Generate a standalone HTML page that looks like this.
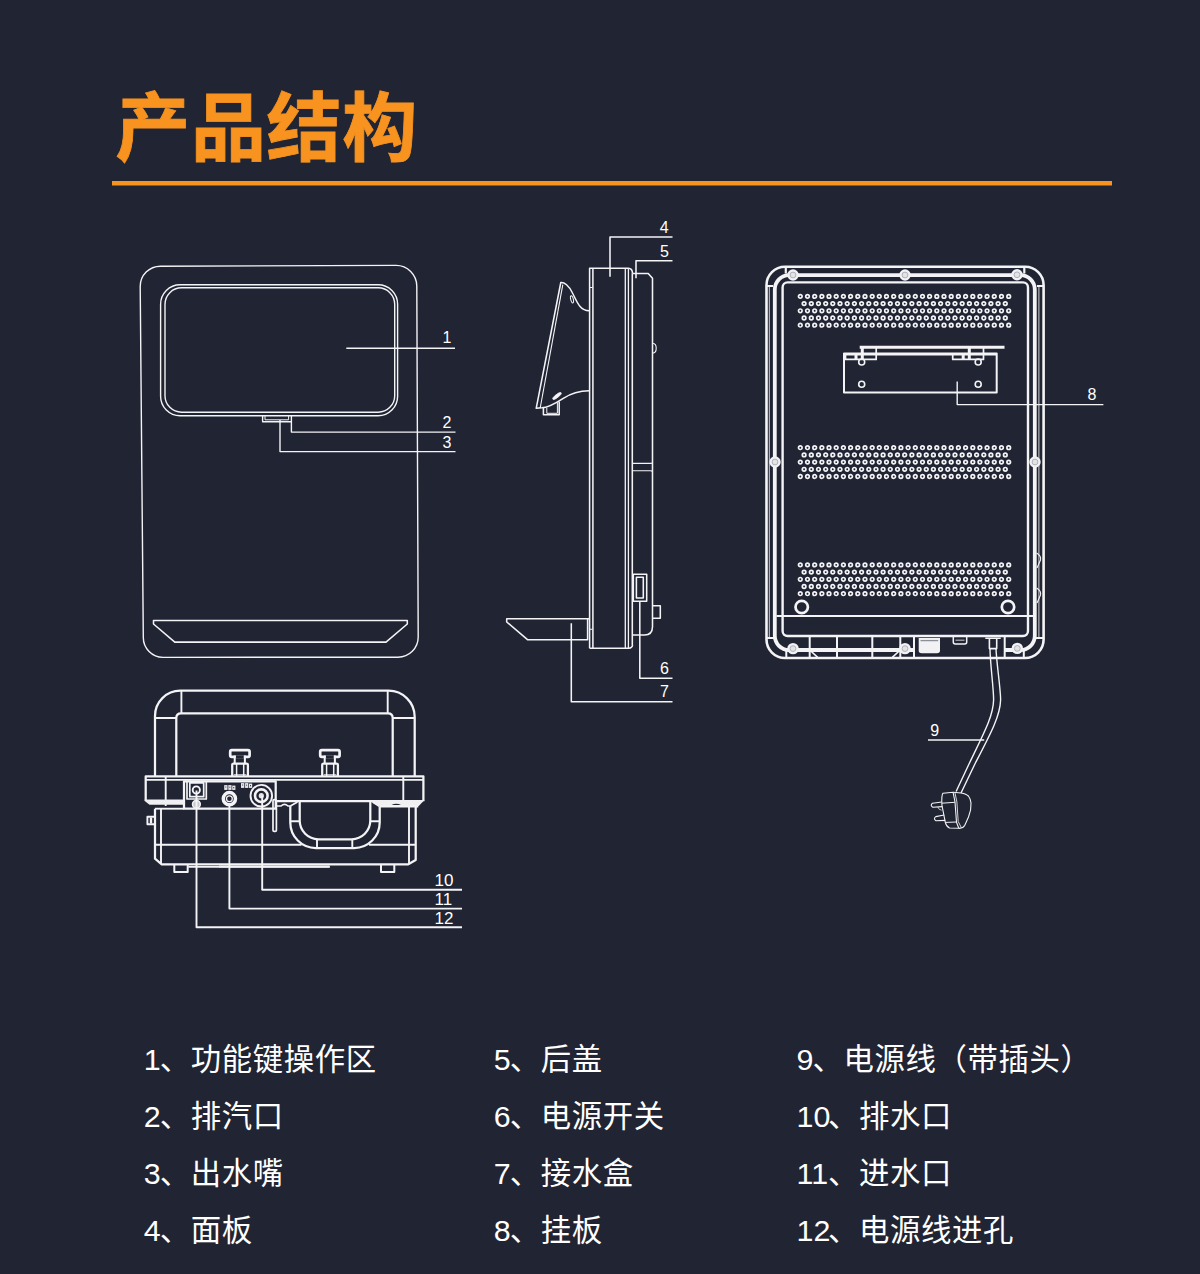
<!DOCTYPE html>
<html lang="zh"><head><meta charset="utf-8"><title>产品结构</title>
<style>html,body{margin:0;padding:0;background:#212433;}body{width:1200px;height:1274px;overflow:hidden;font-family:"Liberation Sans",sans-serif;}svg{display:block}</style>
</head><body><svg width="1200" height="1274" viewBox="0 0 1200 1274"><text x="115.35" y="154.5" font-family="'Liberation Sans', 'Noto Sans CJK SC', sans-serif" font-size="75" font-weight="bold" letter-spacing="0.6" fill="#f7931e" stroke="#f7931e" stroke-width="0.8">产品结构</text><rect x="112" y="181" width="1000" height="4.5" fill="#f7931e"/><g font-family="'Liberation Sans', 'Noto Sans CJK SC', sans-serif" fill="#fff" stroke="none" font-size="30.4" letter-spacing="0.6"><text x="143.8" y="1070.1">1<tspan x="159.7">、功能键操作区</tspan></text><text x="143.8" y="1127.2">2<tspan x="159.7">、排汽口</tspan></text><text x="143.8" y="1184.2">3<tspan x="159.7">、出水嘴</tspan></text><text x="143.8" y="1241.2">4<tspan x="159.7">、面板</tspan></text><text x="493.8" y="1070.1">5<tspan x="509.7">、后盖</tspan></text><text x="493.8" y="1127.2">6<tspan x="509.7">、电源开关</tspan></text><text x="493.8" y="1184.2">7<tspan x="509.7">、接水盒</tspan></text><text x="493.8" y="1241.2">8<tspan x="509.7">、挂板</tspan></text><text x="796.6" y="1070.1">9<tspan x="812.5">、电源线（带插头）</tspan></text><text x="796.6" y="1127.2" letter-spacing="0">10<tspan x="828.1" letter-spacing="0.6">、排水口</tspan></text><text x="796.6" y="1184.2" letter-spacing="0">11<tspan x="828.1" letter-spacing="0.6">、进水口</tspan></text><text x="796.6" y="1241.2" letter-spacing="0">12<tspan x="828.1" letter-spacing="0.6">、电源线进孔</tspan></text></g><g stroke-linejoin="round" stroke-linecap="butt"><path d="M160.5,266.2 L396,265.4 A20.7,20.7 0 0 1 416.8,286 L418.2,637 A20.2,20.2 0 0 1 398,657.2 L163,657.4 A19.8,19.8 0 0 1 143.3,637.6 L140.2,286.4 A20.2,20.2 0 0 1 160.5,266.2 Z" fill="none" stroke="#f4f4f6" stroke-width="1.4" /><rect x="160.6" y="284.7" width="237.0" height="131.1" rx="19.5" ry="19.5" fill="none" stroke="#f4f4f6" stroke-width="1.4" /><rect x="165" y="287.8" width="229.7" height="124.4" rx="16.5" ry="16.5" fill="none" stroke="#f4f4f6" stroke-width="1.4" /><path d="M262.6,415.8 V421.7 H291.3" fill="none" stroke="#f4f4f6" stroke-width="1.4" /><path d="M265,416 V419.8 H288.6 V416" fill="none" stroke="#f4f4f6" stroke-width="1.0" /><path d="M153.5,620.5 H407.3 V624 L386,642.1 H174.8 L153.5,624 Z" fill="none" stroke="#f4f4f6" stroke-width="1.5499999999999998" /><path d="M346.3,348.3 H455" fill="none" stroke="#f4f4f6" stroke-width="1.4" /><path d="M291.4,415.8 V432.1 H455.5" fill="none" stroke="#f4f4f6" stroke-width="1.4" /><path d="M280,420 V451.6 H455.5" fill="none" stroke="#f4f4f6" stroke-width="1.4" /></g><g font-family="'Liberation Sans', sans-serif" fill="#fff" stroke="none" font-size="16"><text x="442.6" y="342.6">1</text><text x="442.6" y="428.4">2</text><text x="442.6" y="447.9">3</text></g><g stroke-linejoin="round" stroke-linecap="butt"><path d="M589.6,648.3 V268.3 H628.4 Q632.4,268.6 632.5,273.3" fill="none" stroke="#f4f4f6" stroke-width="1.55" /><path d="M589.6,648.3 H628.6 Q632.3,648 632.5,645" fill="none" stroke="#f4f4f6" stroke-width="1.55" /><path d="M592.9,268.3 V648.3" fill="none" stroke="#f4f4f6" stroke-width="1.55" /><path d="M625.3,268 V648.3 M628.4,268.6 V648" fill="none" stroke="#f4f4f6" stroke-width="1.3" /><path d="M632.3,273.3 V645" fill="none" stroke="#f4f4f6" stroke-width="1.55" /><path d="M589.2,287.5 H592.5 M589.2,629.2 H592.5" fill="none" stroke="#f4f4f6" stroke-width="1.1" /><path d="M632.5,273.4 H648.2 L652.5,278.3 V626.7 Q652.4,635 644.5,635 H632.5" fill="none" stroke="#f4f4f6" stroke-width="1.55" /><path d="M652.5,343.3 Q656.3,343.6 656.2,348.3 Q656.3,353 652.5,353.3" fill="none" stroke="#f4f4f6" stroke-width="1.1" /><path d="M632.5,463.4 H650.6 Q652,463.4 652.5,462.4 M632.5,470.8 H650.6 Q652,470.8 652.5,471.8" fill="none" stroke="#f4f4f6" stroke-width="1.1" /><path d="M652.5,605.8 H660.3 V618.3 H652.5" fill="none" stroke="#f4f4f6" stroke-width="1.55" /><path d="M633.3,574.2 H646.7 V601.3 H633.3 Z" fill="none" stroke="#f4f4f6" stroke-width="1.55" /><path d="M636.4,577.3 H643.3 V598 H636.4 Z" fill="none" stroke="#f4f4f6" stroke-width="1.55" /><path d="M589.2,310.8 C580,310.5 577.5,303 572.5,293 C569,285.5 564,282 560.8,282.5 L536.2,408.3 L541.7,407.8" fill="none" stroke="#f4f4f6" stroke-width="1.55" /><path d="M562.8,284.6 L540.2,408" fill="none" stroke="#f4f4f6" stroke-width="1.1" /><path d="M541.7,407.8 C549,407.5 556,403 563.3,398.3 C572,392.8 580,391 589.2,390.8" fill="none" stroke="#f4f4f6" stroke-width="1.55" /><ellipse cx="572" cy="299.3" rx="1.3" ry="3.7" transform="rotate(-14 572 299.3)" fill="none" stroke="#f4f4f6" stroke-width="1"/><ellipse cx="557" cy="396" rx="1.5" ry="5.2" transform="rotate(52 557 396)" fill="#f4f4f6" stroke="#f4f4f6" stroke-width="0.8"/><path d="M543.4,408 V414.7 H559.2 V401.5" fill="none" stroke="#f4f4f6" stroke-width="1.55" /><path d="M546.8,408 V413.3 H557.4 V402.6" fill="none" stroke="#f4f4f6" stroke-width="1.0" /><path d="M589.2,618.7 H506.7 V622 L527.5,639.7 H587.6 V618.7" fill="none" stroke="#f4f4f6" stroke-width="1.55" /><path d="M672.5,237 H610 V276.7" fill="none" stroke="#f4f4f6" stroke-width="1.55" /><path d="M672.5,260.7 H636 V278.3" fill="none" stroke="#f4f4f6" stroke-width="1.55" /><path d="M639.8,601.3 V678.3 H672.5" fill="none" stroke="#f4f4f6" stroke-width="1.55" /><path d="M571.3,623.3 V701.7 H672.5" fill="none" stroke="#f4f4f6" stroke-width="1.55" /></g><g font-family="'Liberation Sans', sans-serif" fill="#fff" stroke="none" font-size="16"><text x="659.7" y="232.6">4</text><text x="659.9" y="257">5</text><text x="659.9" y="674.4">6</text><text x="659.9" y="696.8">7</text></g><g stroke-linejoin="round" stroke-linecap="butt"><rect x="766.5" y="266.7" width="277.1" height="391.3" rx="18.5" ry="18.5" fill="none" stroke="#f4f4f6" stroke-width="2.6" /><path d="M914,650 H789 A14.2,14.2 0 0 1 774.8,635.8 V289.4 A14.2,14.2 0 0 1 789,275.2 H1020.6 A14.2,14.2 0 0 1 1034.8,289.4 V635.8 A14.2,14.2 0 0 1 1020.6,650 H1004.7" fill="none" stroke="#f4f4f6" stroke-width="3.8" /><rect x="782.6" y="282.4" width="245.4" height="353.6" rx="5" ry="5" fill="none" stroke="#f4f4f6" stroke-width="2.4" /><path d="M785.8,266.7 V273.4 M766.5,286 H773 M1024.3,266.7 V273.4 M1043.6,286 H1037" fill="none" stroke="#f4f4f6" stroke-width="2.2" /><path d="M1038.9,286 V638 M769.3,286 V638" fill="none" stroke="#f4f4f6" stroke-width="1.0" opacity="0.85"/><path d="M766.5,638 H774 M786.3,651 V658 M1043.6,638 H1036 M1023.8,651 V658" fill="none" stroke="#f4f4f6" stroke-width="2.0" /><path d="M776.5,616 H1033" fill="none" stroke="#f4f4f6" stroke-width="2.0" /><path d="M809.7,636 V658 M837,636 V658 M872.3,636 V658 M900.3,636 V658 M914,636 V658 M1004.7,636 V658" fill="none" stroke="#f4f4f6" stroke-width="2.0" /><path d="M809.7,650 L817.7,657.3 M900.3,650 L892.3,657.3" fill="none" stroke="#f4f4f6" stroke-width="1.6" /><path d="M1036.6,553 Q1041.5,556 1040.5,560 L1037,568 M1036.6,588 Q1041.5,591 1040.5,595 L1037,603" fill="none" stroke="#f4f4f6" stroke-width="1.1" /><circle cx="793" cy="275" r="5.7" fill="#f2f2f4"/><circle cx="793" cy="275" r="2.9" fill="#e2e3e7" stroke="#a9abb4" stroke-width="0.9"/><circle cx="905" cy="275" r="5.7" fill="#f2f2f4"/><circle cx="905" cy="275" r="2.9" fill="#e2e3e7" stroke="#a9abb4" stroke-width="0.9"/><circle cx="1017" cy="274.8" r="5.7" fill="#f2f2f4"/><circle cx="1017" cy="274.8" r="2.9" fill="#e2e3e7" stroke="#a9abb4" stroke-width="0.9"/><circle cx="775" cy="462" r="5.7" fill="#f2f2f4"/><circle cx="775" cy="462" r="2.9" fill="#e2e3e7" stroke="#a9abb4" stroke-width="0.9"/><circle cx="1035" cy="462" r="5.7" fill="#f2f2f4"/><circle cx="1035" cy="462" r="2.9" fill="#e2e3e7" stroke="#a9abb4" stroke-width="0.9"/><circle cx="793" cy="648.6" r="5.7" fill="#f2f2f4"/><circle cx="793" cy="648.6" r="2.9" fill="#e2e3e7" stroke="#a9abb4" stroke-width="0.9"/><circle cx="905" cy="648.6" r="5.7" fill="#f2f2f4"/><circle cx="905" cy="648.6" r="2.9" fill="#e2e3e7" stroke="#a9abb4" stroke-width="0.9"/><circle cx="1017.3" cy="648.4" r="5.7" fill="#f2f2f4"/><circle cx="1017.3" cy="648.4" r="2.9" fill="#e2e3e7" stroke="#a9abb4" stroke-width="0.9"/><path d="M798.5,296.4a1.8,1.8 0 1 0 3.6,0a1.8,1.8 0 1 0 -3.6,0M805.7,296.4a1.8,1.8 0 1 0 3.6,0a1.8,1.8 0 1 0 -3.6,0M812.9,296.4a1.8,1.8 0 1 0 3.6,0a1.8,1.8 0 1 0 -3.6,0M820.1,296.4a1.8,1.8 0 1 0 3.6,0a1.8,1.8 0 1 0 -3.6,0M827.2,296.4a1.8,1.8 0 1 0 3.6,0a1.8,1.8 0 1 0 -3.6,0M834.4,296.4a1.8,1.8 0 1 0 3.6,0a1.8,1.8 0 1 0 -3.6,0M841.6,296.4a1.8,1.8 0 1 0 3.6,0a1.8,1.8 0 1 0 -3.6,0M848.8,296.4a1.8,1.8 0 1 0 3.6,0a1.8,1.8 0 1 0 -3.6,0M856.0,296.4a1.8,1.8 0 1 0 3.6,0a1.8,1.8 0 1 0 -3.6,0M863.2,296.4a1.8,1.8 0 1 0 3.6,0a1.8,1.8 0 1 0 -3.6,0M870.4,296.4a1.8,1.8 0 1 0 3.6,0a1.8,1.8 0 1 0 -3.6,0M877.5,296.4a1.8,1.8 0 1 0 3.6,0a1.8,1.8 0 1 0 -3.6,0M884.7,296.4a1.8,1.8 0 1 0 3.6,0a1.8,1.8 0 1 0 -3.6,0M891.9,296.4a1.8,1.8 0 1 0 3.6,0a1.8,1.8 0 1 0 -3.6,0M899.1,296.4a1.8,1.8 0 1 0 3.6,0a1.8,1.8 0 1 0 -3.6,0M906.3,296.4a1.8,1.8 0 1 0 3.6,0a1.8,1.8 0 1 0 -3.6,0M913.5,296.4a1.8,1.8 0 1 0 3.6,0a1.8,1.8 0 1 0 -3.6,0M920.7,296.4a1.8,1.8 0 1 0 3.6,0a1.8,1.8 0 1 0 -3.6,0M927.8,296.4a1.8,1.8 0 1 0 3.6,0a1.8,1.8 0 1 0 -3.6,0M935.0,296.4a1.8,1.8 0 1 0 3.6,0a1.8,1.8 0 1 0 -3.6,0M942.2,296.4a1.8,1.8 0 1 0 3.6,0a1.8,1.8 0 1 0 -3.6,0M949.4,296.4a1.8,1.8 0 1 0 3.6,0a1.8,1.8 0 1 0 -3.6,0M956.6,296.4a1.8,1.8 0 1 0 3.6,0a1.8,1.8 0 1 0 -3.6,0M963.8,296.4a1.8,1.8 0 1 0 3.6,0a1.8,1.8 0 1 0 -3.6,0M971.0,296.4a1.8,1.8 0 1 0 3.6,0a1.8,1.8 0 1 0 -3.6,0M978.1,296.4a1.8,1.8 0 1 0 3.6,0a1.8,1.8 0 1 0 -3.6,0M985.3,296.4a1.8,1.8 0 1 0 3.6,0a1.8,1.8 0 1 0 -3.6,0M992.5,296.4a1.8,1.8 0 1 0 3.6,0a1.8,1.8 0 1 0 -3.6,0M999.7,296.4a1.8,1.8 0 1 0 3.6,0a1.8,1.8 0 1 0 -3.6,0M1006.9,296.4a1.8,1.8 0 1 0 3.6,0a1.8,1.8 0 1 0 -3.6,0M802.3,303.6a1.8,1.8 0 1 0 3.6,0a1.8,1.8 0 1 0 -3.6,0M809.5,303.6a1.8,1.8 0 1 0 3.6,0a1.8,1.8 0 1 0 -3.6,0M816.7,303.6a1.8,1.8 0 1 0 3.6,0a1.8,1.8 0 1 0 -3.6,0M823.9,303.6a1.8,1.8 0 1 0 3.6,0a1.8,1.8 0 1 0 -3.6,0M831.0,303.6a1.8,1.8 0 1 0 3.6,0a1.8,1.8 0 1 0 -3.6,0M838.2,303.6a1.8,1.8 0 1 0 3.6,0a1.8,1.8 0 1 0 -3.6,0M845.4,303.6a1.8,1.8 0 1 0 3.6,0a1.8,1.8 0 1 0 -3.6,0M852.6,303.6a1.8,1.8 0 1 0 3.6,0a1.8,1.8 0 1 0 -3.6,0M859.8,303.6a1.8,1.8 0 1 0 3.6,0a1.8,1.8 0 1 0 -3.6,0M867.0,303.6a1.8,1.8 0 1 0 3.6,0a1.8,1.8 0 1 0 -3.6,0M874.2,303.6a1.8,1.8 0 1 0 3.6,0a1.8,1.8 0 1 0 -3.6,0M881.3,303.6a1.8,1.8 0 1 0 3.6,0a1.8,1.8 0 1 0 -3.6,0M888.5,303.6a1.8,1.8 0 1 0 3.6,0a1.8,1.8 0 1 0 -3.6,0M895.7,303.6a1.8,1.8 0 1 0 3.6,0a1.8,1.8 0 1 0 -3.6,0M902.9,303.6a1.8,1.8 0 1 0 3.6,0a1.8,1.8 0 1 0 -3.6,0M910.1,303.6a1.8,1.8 0 1 0 3.6,0a1.8,1.8 0 1 0 -3.6,0M917.3,303.6a1.8,1.8 0 1 0 3.6,0a1.8,1.8 0 1 0 -3.6,0M924.5,303.6a1.8,1.8 0 1 0 3.6,0a1.8,1.8 0 1 0 -3.6,0M931.6,303.6a1.8,1.8 0 1 0 3.6,0a1.8,1.8 0 1 0 -3.6,0M938.8,303.6a1.8,1.8 0 1 0 3.6,0a1.8,1.8 0 1 0 -3.6,0M946.0,303.6a1.8,1.8 0 1 0 3.6,0a1.8,1.8 0 1 0 -3.6,0M953.2,303.6a1.8,1.8 0 1 0 3.6,0a1.8,1.8 0 1 0 -3.6,0M960.4,303.6a1.8,1.8 0 1 0 3.6,0a1.8,1.8 0 1 0 -3.6,0M967.6,303.6a1.8,1.8 0 1 0 3.6,0a1.8,1.8 0 1 0 -3.6,0M974.8,303.6a1.8,1.8 0 1 0 3.6,0a1.8,1.8 0 1 0 -3.6,0M982.0,303.6a1.8,1.8 0 1 0 3.6,0a1.8,1.8 0 1 0 -3.6,0M989.1,303.6a1.8,1.8 0 1 0 3.6,0a1.8,1.8 0 1 0 -3.6,0M996.3,303.6a1.8,1.8 0 1 0 3.6,0a1.8,1.8 0 1 0 -3.6,0M1003.5,303.6a1.8,1.8 0 1 0 3.6,0a1.8,1.8 0 1 0 -3.6,0M798.5,310.8a1.8,1.8 0 1 0 3.6,0a1.8,1.8 0 1 0 -3.6,0M805.7,310.8a1.8,1.8 0 1 0 3.6,0a1.8,1.8 0 1 0 -3.6,0M812.9,310.8a1.8,1.8 0 1 0 3.6,0a1.8,1.8 0 1 0 -3.6,0M820.1,310.8a1.8,1.8 0 1 0 3.6,0a1.8,1.8 0 1 0 -3.6,0M827.2,310.8a1.8,1.8 0 1 0 3.6,0a1.8,1.8 0 1 0 -3.6,0M834.4,310.8a1.8,1.8 0 1 0 3.6,0a1.8,1.8 0 1 0 -3.6,0M841.6,310.8a1.8,1.8 0 1 0 3.6,0a1.8,1.8 0 1 0 -3.6,0M848.8,310.8a1.8,1.8 0 1 0 3.6,0a1.8,1.8 0 1 0 -3.6,0M856.0,310.8a1.8,1.8 0 1 0 3.6,0a1.8,1.8 0 1 0 -3.6,0M863.2,310.8a1.8,1.8 0 1 0 3.6,0a1.8,1.8 0 1 0 -3.6,0M870.4,310.8a1.8,1.8 0 1 0 3.6,0a1.8,1.8 0 1 0 -3.6,0M877.5,310.8a1.8,1.8 0 1 0 3.6,0a1.8,1.8 0 1 0 -3.6,0M884.7,310.8a1.8,1.8 0 1 0 3.6,0a1.8,1.8 0 1 0 -3.6,0M891.9,310.8a1.8,1.8 0 1 0 3.6,0a1.8,1.8 0 1 0 -3.6,0M899.1,310.8a1.8,1.8 0 1 0 3.6,0a1.8,1.8 0 1 0 -3.6,0M906.3,310.8a1.8,1.8 0 1 0 3.6,0a1.8,1.8 0 1 0 -3.6,0M913.5,310.8a1.8,1.8 0 1 0 3.6,0a1.8,1.8 0 1 0 -3.6,0M920.7,310.8a1.8,1.8 0 1 0 3.6,0a1.8,1.8 0 1 0 -3.6,0M927.8,310.8a1.8,1.8 0 1 0 3.6,0a1.8,1.8 0 1 0 -3.6,0M935.0,310.8a1.8,1.8 0 1 0 3.6,0a1.8,1.8 0 1 0 -3.6,0M942.2,310.8a1.8,1.8 0 1 0 3.6,0a1.8,1.8 0 1 0 -3.6,0M949.4,310.8a1.8,1.8 0 1 0 3.6,0a1.8,1.8 0 1 0 -3.6,0M956.6,310.8a1.8,1.8 0 1 0 3.6,0a1.8,1.8 0 1 0 -3.6,0M963.8,310.8a1.8,1.8 0 1 0 3.6,0a1.8,1.8 0 1 0 -3.6,0M971.0,310.8a1.8,1.8 0 1 0 3.6,0a1.8,1.8 0 1 0 -3.6,0M978.1,310.8a1.8,1.8 0 1 0 3.6,0a1.8,1.8 0 1 0 -3.6,0M985.3,310.8a1.8,1.8 0 1 0 3.6,0a1.8,1.8 0 1 0 -3.6,0M992.5,310.8a1.8,1.8 0 1 0 3.6,0a1.8,1.8 0 1 0 -3.6,0M999.7,310.8a1.8,1.8 0 1 0 3.6,0a1.8,1.8 0 1 0 -3.6,0M1006.9,310.8a1.8,1.8 0 1 0 3.6,0a1.8,1.8 0 1 0 -3.6,0M802.3,318.0a1.8,1.8 0 1 0 3.6,0a1.8,1.8 0 1 0 -3.6,0M809.5,318.0a1.8,1.8 0 1 0 3.6,0a1.8,1.8 0 1 0 -3.6,0M816.7,318.0a1.8,1.8 0 1 0 3.6,0a1.8,1.8 0 1 0 -3.6,0M823.9,318.0a1.8,1.8 0 1 0 3.6,0a1.8,1.8 0 1 0 -3.6,0M831.0,318.0a1.8,1.8 0 1 0 3.6,0a1.8,1.8 0 1 0 -3.6,0M838.2,318.0a1.8,1.8 0 1 0 3.6,0a1.8,1.8 0 1 0 -3.6,0M845.4,318.0a1.8,1.8 0 1 0 3.6,0a1.8,1.8 0 1 0 -3.6,0M852.6,318.0a1.8,1.8 0 1 0 3.6,0a1.8,1.8 0 1 0 -3.6,0M859.8,318.0a1.8,1.8 0 1 0 3.6,0a1.8,1.8 0 1 0 -3.6,0M867.0,318.0a1.8,1.8 0 1 0 3.6,0a1.8,1.8 0 1 0 -3.6,0M874.2,318.0a1.8,1.8 0 1 0 3.6,0a1.8,1.8 0 1 0 -3.6,0M881.3,318.0a1.8,1.8 0 1 0 3.6,0a1.8,1.8 0 1 0 -3.6,0M888.5,318.0a1.8,1.8 0 1 0 3.6,0a1.8,1.8 0 1 0 -3.6,0M895.7,318.0a1.8,1.8 0 1 0 3.6,0a1.8,1.8 0 1 0 -3.6,0M902.9,318.0a1.8,1.8 0 1 0 3.6,0a1.8,1.8 0 1 0 -3.6,0M910.1,318.0a1.8,1.8 0 1 0 3.6,0a1.8,1.8 0 1 0 -3.6,0M917.3,318.0a1.8,1.8 0 1 0 3.6,0a1.8,1.8 0 1 0 -3.6,0M924.5,318.0a1.8,1.8 0 1 0 3.6,0a1.8,1.8 0 1 0 -3.6,0M931.6,318.0a1.8,1.8 0 1 0 3.6,0a1.8,1.8 0 1 0 -3.6,0M938.8,318.0a1.8,1.8 0 1 0 3.6,0a1.8,1.8 0 1 0 -3.6,0M946.0,318.0a1.8,1.8 0 1 0 3.6,0a1.8,1.8 0 1 0 -3.6,0M953.2,318.0a1.8,1.8 0 1 0 3.6,0a1.8,1.8 0 1 0 -3.6,0M960.4,318.0a1.8,1.8 0 1 0 3.6,0a1.8,1.8 0 1 0 -3.6,0M967.6,318.0a1.8,1.8 0 1 0 3.6,0a1.8,1.8 0 1 0 -3.6,0M974.8,318.0a1.8,1.8 0 1 0 3.6,0a1.8,1.8 0 1 0 -3.6,0M982.0,318.0a1.8,1.8 0 1 0 3.6,0a1.8,1.8 0 1 0 -3.6,0M989.1,318.0a1.8,1.8 0 1 0 3.6,0a1.8,1.8 0 1 0 -3.6,0M996.3,318.0a1.8,1.8 0 1 0 3.6,0a1.8,1.8 0 1 0 -3.6,0M1003.5,318.0a1.8,1.8 0 1 0 3.6,0a1.8,1.8 0 1 0 -3.6,0M798.5,325.2a1.8,1.8 0 1 0 3.6,0a1.8,1.8 0 1 0 -3.6,0M805.7,325.2a1.8,1.8 0 1 0 3.6,0a1.8,1.8 0 1 0 -3.6,0M812.9,325.2a1.8,1.8 0 1 0 3.6,0a1.8,1.8 0 1 0 -3.6,0M820.1,325.2a1.8,1.8 0 1 0 3.6,0a1.8,1.8 0 1 0 -3.6,0M827.2,325.2a1.8,1.8 0 1 0 3.6,0a1.8,1.8 0 1 0 -3.6,0M834.4,325.2a1.8,1.8 0 1 0 3.6,0a1.8,1.8 0 1 0 -3.6,0M841.6,325.2a1.8,1.8 0 1 0 3.6,0a1.8,1.8 0 1 0 -3.6,0M848.8,325.2a1.8,1.8 0 1 0 3.6,0a1.8,1.8 0 1 0 -3.6,0M856.0,325.2a1.8,1.8 0 1 0 3.6,0a1.8,1.8 0 1 0 -3.6,0M863.2,325.2a1.8,1.8 0 1 0 3.6,0a1.8,1.8 0 1 0 -3.6,0M870.4,325.2a1.8,1.8 0 1 0 3.6,0a1.8,1.8 0 1 0 -3.6,0M877.5,325.2a1.8,1.8 0 1 0 3.6,0a1.8,1.8 0 1 0 -3.6,0M884.7,325.2a1.8,1.8 0 1 0 3.6,0a1.8,1.8 0 1 0 -3.6,0M891.9,325.2a1.8,1.8 0 1 0 3.6,0a1.8,1.8 0 1 0 -3.6,0M899.1,325.2a1.8,1.8 0 1 0 3.6,0a1.8,1.8 0 1 0 -3.6,0M906.3,325.2a1.8,1.8 0 1 0 3.6,0a1.8,1.8 0 1 0 -3.6,0M913.5,325.2a1.8,1.8 0 1 0 3.6,0a1.8,1.8 0 1 0 -3.6,0M920.7,325.2a1.8,1.8 0 1 0 3.6,0a1.8,1.8 0 1 0 -3.6,0M927.8,325.2a1.8,1.8 0 1 0 3.6,0a1.8,1.8 0 1 0 -3.6,0M935.0,325.2a1.8,1.8 0 1 0 3.6,0a1.8,1.8 0 1 0 -3.6,0M942.2,325.2a1.8,1.8 0 1 0 3.6,0a1.8,1.8 0 1 0 -3.6,0M949.4,325.2a1.8,1.8 0 1 0 3.6,0a1.8,1.8 0 1 0 -3.6,0M956.6,325.2a1.8,1.8 0 1 0 3.6,0a1.8,1.8 0 1 0 -3.6,0M963.8,325.2a1.8,1.8 0 1 0 3.6,0a1.8,1.8 0 1 0 -3.6,0M971.0,325.2a1.8,1.8 0 1 0 3.6,0a1.8,1.8 0 1 0 -3.6,0M978.1,325.2a1.8,1.8 0 1 0 3.6,0a1.8,1.8 0 1 0 -3.6,0M985.3,325.2a1.8,1.8 0 1 0 3.6,0a1.8,1.8 0 1 0 -3.6,0M992.5,325.2a1.8,1.8 0 1 0 3.6,0a1.8,1.8 0 1 0 -3.6,0M999.7,325.2a1.8,1.8 0 1 0 3.6,0a1.8,1.8 0 1 0 -3.6,0M1006.9,325.2a1.8,1.8 0 1 0 3.6,0a1.8,1.8 0 1 0 -3.6,0M798.5,447.7a1.8,1.8 0 1 0 3.6,0a1.8,1.8 0 1 0 -3.6,0M805.7,447.7a1.8,1.8 0 1 0 3.6,0a1.8,1.8 0 1 0 -3.6,0M812.9,447.7a1.8,1.8 0 1 0 3.6,0a1.8,1.8 0 1 0 -3.6,0M820.1,447.7a1.8,1.8 0 1 0 3.6,0a1.8,1.8 0 1 0 -3.6,0M827.2,447.7a1.8,1.8 0 1 0 3.6,0a1.8,1.8 0 1 0 -3.6,0M834.4,447.7a1.8,1.8 0 1 0 3.6,0a1.8,1.8 0 1 0 -3.6,0M841.6,447.7a1.8,1.8 0 1 0 3.6,0a1.8,1.8 0 1 0 -3.6,0M848.8,447.7a1.8,1.8 0 1 0 3.6,0a1.8,1.8 0 1 0 -3.6,0M856.0,447.7a1.8,1.8 0 1 0 3.6,0a1.8,1.8 0 1 0 -3.6,0M863.2,447.7a1.8,1.8 0 1 0 3.6,0a1.8,1.8 0 1 0 -3.6,0M870.4,447.7a1.8,1.8 0 1 0 3.6,0a1.8,1.8 0 1 0 -3.6,0M877.5,447.7a1.8,1.8 0 1 0 3.6,0a1.8,1.8 0 1 0 -3.6,0M884.7,447.7a1.8,1.8 0 1 0 3.6,0a1.8,1.8 0 1 0 -3.6,0M891.9,447.7a1.8,1.8 0 1 0 3.6,0a1.8,1.8 0 1 0 -3.6,0M899.1,447.7a1.8,1.8 0 1 0 3.6,0a1.8,1.8 0 1 0 -3.6,0M906.3,447.7a1.8,1.8 0 1 0 3.6,0a1.8,1.8 0 1 0 -3.6,0M913.5,447.7a1.8,1.8 0 1 0 3.6,0a1.8,1.8 0 1 0 -3.6,0M920.7,447.7a1.8,1.8 0 1 0 3.6,0a1.8,1.8 0 1 0 -3.6,0M927.8,447.7a1.8,1.8 0 1 0 3.6,0a1.8,1.8 0 1 0 -3.6,0M935.0,447.7a1.8,1.8 0 1 0 3.6,0a1.8,1.8 0 1 0 -3.6,0M942.2,447.7a1.8,1.8 0 1 0 3.6,0a1.8,1.8 0 1 0 -3.6,0M949.4,447.7a1.8,1.8 0 1 0 3.6,0a1.8,1.8 0 1 0 -3.6,0M956.6,447.7a1.8,1.8 0 1 0 3.6,0a1.8,1.8 0 1 0 -3.6,0M963.8,447.7a1.8,1.8 0 1 0 3.6,0a1.8,1.8 0 1 0 -3.6,0M971.0,447.7a1.8,1.8 0 1 0 3.6,0a1.8,1.8 0 1 0 -3.6,0M978.1,447.7a1.8,1.8 0 1 0 3.6,0a1.8,1.8 0 1 0 -3.6,0M985.3,447.7a1.8,1.8 0 1 0 3.6,0a1.8,1.8 0 1 0 -3.6,0M992.5,447.7a1.8,1.8 0 1 0 3.6,0a1.8,1.8 0 1 0 -3.6,0M999.7,447.7a1.8,1.8 0 1 0 3.6,0a1.8,1.8 0 1 0 -3.6,0M1006.9,447.7a1.8,1.8 0 1 0 3.6,0a1.8,1.8 0 1 0 -3.6,0M802.3,454.9a1.8,1.8 0 1 0 3.6,0a1.8,1.8 0 1 0 -3.6,0M809.5,454.9a1.8,1.8 0 1 0 3.6,0a1.8,1.8 0 1 0 -3.6,0M816.7,454.9a1.8,1.8 0 1 0 3.6,0a1.8,1.8 0 1 0 -3.6,0M823.9,454.9a1.8,1.8 0 1 0 3.6,0a1.8,1.8 0 1 0 -3.6,0M831.0,454.9a1.8,1.8 0 1 0 3.6,0a1.8,1.8 0 1 0 -3.6,0M838.2,454.9a1.8,1.8 0 1 0 3.6,0a1.8,1.8 0 1 0 -3.6,0M845.4,454.9a1.8,1.8 0 1 0 3.6,0a1.8,1.8 0 1 0 -3.6,0M852.6,454.9a1.8,1.8 0 1 0 3.6,0a1.8,1.8 0 1 0 -3.6,0M859.8,454.9a1.8,1.8 0 1 0 3.6,0a1.8,1.8 0 1 0 -3.6,0M867.0,454.9a1.8,1.8 0 1 0 3.6,0a1.8,1.8 0 1 0 -3.6,0M874.2,454.9a1.8,1.8 0 1 0 3.6,0a1.8,1.8 0 1 0 -3.6,0M881.3,454.9a1.8,1.8 0 1 0 3.6,0a1.8,1.8 0 1 0 -3.6,0M888.5,454.9a1.8,1.8 0 1 0 3.6,0a1.8,1.8 0 1 0 -3.6,0M895.7,454.9a1.8,1.8 0 1 0 3.6,0a1.8,1.8 0 1 0 -3.6,0M902.9,454.9a1.8,1.8 0 1 0 3.6,0a1.8,1.8 0 1 0 -3.6,0M910.1,454.9a1.8,1.8 0 1 0 3.6,0a1.8,1.8 0 1 0 -3.6,0M917.3,454.9a1.8,1.8 0 1 0 3.6,0a1.8,1.8 0 1 0 -3.6,0M924.5,454.9a1.8,1.8 0 1 0 3.6,0a1.8,1.8 0 1 0 -3.6,0M931.6,454.9a1.8,1.8 0 1 0 3.6,0a1.8,1.8 0 1 0 -3.6,0M938.8,454.9a1.8,1.8 0 1 0 3.6,0a1.8,1.8 0 1 0 -3.6,0M946.0,454.9a1.8,1.8 0 1 0 3.6,0a1.8,1.8 0 1 0 -3.6,0M953.2,454.9a1.8,1.8 0 1 0 3.6,0a1.8,1.8 0 1 0 -3.6,0M960.4,454.9a1.8,1.8 0 1 0 3.6,0a1.8,1.8 0 1 0 -3.6,0M967.6,454.9a1.8,1.8 0 1 0 3.6,0a1.8,1.8 0 1 0 -3.6,0M974.8,454.9a1.8,1.8 0 1 0 3.6,0a1.8,1.8 0 1 0 -3.6,0M982.0,454.9a1.8,1.8 0 1 0 3.6,0a1.8,1.8 0 1 0 -3.6,0M989.1,454.9a1.8,1.8 0 1 0 3.6,0a1.8,1.8 0 1 0 -3.6,0M996.3,454.9a1.8,1.8 0 1 0 3.6,0a1.8,1.8 0 1 0 -3.6,0M1003.5,454.9a1.8,1.8 0 1 0 3.6,0a1.8,1.8 0 1 0 -3.6,0M798.5,462.1a1.8,1.8 0 1 0 3.6,0a1.8,1.8 0 1 0 -3.6,0M805.7,462.1a1.8,1.8 0 1 0 3.6,0a1.8,1.8 0 1 0 -3.6,0M812.9,462.1a1.8,1.8 0 1 0 3.6,0a1.8,1.8 0 1 0 -3.6,0M820.1,462.1a1.8,1.8 0 1 0 3.6,0a1.8,1.8 0 1 0 -3.6,0M827.2,462.1a1.8,1.8 0 1 0 3.6,0a1.8,1.8 0 1 0 -3.6,0M834.4,462.1a1.8,1.8 0 1 0 3.6,0a1.8,1.8 0 1 0 -3.6,0M841.6,462.1a1.8,1.8 0 1 0 3.6,0a1.8,1.8 0 1 0 -3.6,0M848.8,462.1a1.8,1.8 0 1 0 3.6,0a1.8,1.8 0 1 0 -3.6,0M856.0,462.1a1.8,1.8 0 1 0 3.6,0a1.8,1.8 0 1 0 -3.6,0M863.2,462.1a1.8,1.8 0 1 0 3.6,0a1.8,1.8 0 1 0 -3.6,0M870.4,462.1a1.8,1.8 0 1 0 3.6,0a1.8,1.8 0 1 0 -3.6,0M877.5,462.1a1.8,1.8 0 1 0 3.6,0a1.8,1.8 0 1 0 -3.6,0M884.7,462.1a1.8,1.8 0 1 0 3.6,0a1.8,1.8 0 1 0 -3.6,0M891.9,462.1a1.8,1.8 0 1 0 3.6,0a1.8,1.8 0 1 0 -3.6,0M899.1,462.1a1.8,1.8 0 1 0 3.6,0a1.8,1.8 0 1 0 -3.6,0M906.3,462.1a1.8,1.8 0 1 0 3.6,0a1.8,1.8 0 1 0 -3.6,0M913.5,462.1a1.8,1.8 0 1 0 3.6,0a1.8,1.8 0 1 0 -3.6,0M920.7,462.1a1.8,1.8 0 1 0 3.6,0a1.8,1.8 0 1 0 -3.6,0M927.8,462.1a1.8,1.8 0 1 0 3.6,0a1.8,1.8 0 1 0 -3.6,0M935.0,462.1a1.8,1.8 0 1 0 3.6,0a1.8,1.8 0 1 0 -3.6,0M942.2,462.1a1.8,1.8 0 1 0 3.6,0a1.8,1.8 0 1 0 -3.6,0M949.4,462.1a1.8,1.8 0 1 0 3.6,0a1.8,1.8 0 1 0 -3.6,0M956.6,462.1a1.8,1.8 0 1 0 3.6,0a1.8,1.8 0 1 0 -3.6,0M963.8,462.1a1.8,1.8 0 1 0 3.6,0a1.8,1.8 0 1 0 -3.6,0M971.0,462.1a1.8,1.8 0 1 0 3.6,0a1.8,1.8 0 1 0 -3.6,0M978.1,462.1a1.8,1.8 0 1 0 3.6,0a1.8,1.8 0 1 0 -3.6,0M985.3,462.1a1.8,1.8 0 1 0 3.6,0a1.8,1.8 0 1 0 -3.6,0M992.5,462.1a1.8,1.8 0 1 0 3.6,0a1.8,1.8 0 1 0 -3.6,0M999.7,462.1a1.8,1.8 0 1 0 3.6,0a1.8,1.8 0 1 0 -3.6,0M1006.9,462.1a1.8,1.8 0 1 0 3.6,0a1.8,1.8 0 1 0 -3.6,0M802.3,469.3a1.8,1.8 0 1 0 3.6,0a1.8,1.8 0 1 0 -3.6,0M809.5,469.3a1.8,1.8 0 1 0 3.6,0a1.8,1.8 0 1 0 -3.6,0M816.7,469.3a1.8,1.8 0 1 0 3.6,0a1.8,1.8 0 1 0 -3.6,0M823.9,469.3a1.8,1.8 0 1 0 3.6,0a1.8,1.8 0 1 0 -3.6,0M831.0,469.3a1.8,1.8 0 1 0 3.6,0a1.8,1.8 0 1 0 -3.6,0M838.2,469.3a1.8,1.8 0 1 0 3.6,0a1.8,1.8 0 1 0 -3.6,0M845.4,469.3a1.8,1.8 0 1 0 3.6,0a1.8,1.8 0 1 0 -3.6,0M852.6,469.3a1.8,1.8 0 1 0 3.6,0a1.8,1.8 0 1 0 -3.6,0M859.8,469.3a1.8,1.8 0 1 0 3.6,0a1.8,1.8 0 1 0 -3.6,0M867.0,469.3a1.8,1.8 0 1 0 3.6,0a1.8,1.8 0 1 0 -3.6,0M874.2,469.3a1.8,1.8 0 1 0 3.6,0a1.8,1.8 0 1 0 -3.6,0M881.3,469.3a1.8,1.8 0 1 0 3.6,0a1.8,1.8 0 1 0 -3.6,0M888.5,469.3a1.8,1.8 0 1 0 3.6,0a1.8,1.8 0 1 0 -3.6,0M895.7,469.3a1.8,1.8 0 1 0 3.6,0a1.8,1.8 0 1 0 -3.6,0M902.9,469.3a1.8,1.8 0 1 0 3.6,0a1.8,1.8 0 1 0 -3.6,0M910.1,469.3a1.8,1.8 0 1 0 3.6,0a1.8,1.8 0 1 0 -3.6,0M917.3,469.3a1.8,1.8 0 1 0 3.6,0a1.8,1.8 0 1 0 -3.6,0M924.5,469.3a1.8,1.8 0 1 0 3.6,0a1.8,1.8 0 1 0 -3.6,0M931.6,469.3a1.8,1.8 0 1 0 3.6,0a1.8,1.8 0 1 0 -3.6,0M938.8,469.3a1.8,1.8 0 1 0 3.6,0a1.8,1.8 0 1 0 -3.6,0M946.0,469.3a1.8,1.8 0 1 0 3.6,0a1.8,1.8 0 1 0 -3.6,0M953.2,469.3a1.8,1.8 0 1 0 3.6,0a1.8,1.8 0 1 0 -3.6,0M960.4,469.3a1.8,1.8 0 1 0 3.6,0a1.8,1.8 0 1 0 -3.6,0M967.6,469.3a1.8,1.8 0 1 0 3.6,0a1.8,1.8 0 1 0 -3.6,0M974.8,469.3a1.8,1.8 0 1 0 3.6,0a1.8,1.8 0 1 0 -3.6,0M982.0,469.3a1.8,1.8 0 1 0 3.6,0a1.8,1.8 0 1 0 -3.6,0M989.1,469.3a1.8,1.8 0 1 0 3.6,0a1.8,1.8 0 1 0 -3.6,0M996.3,469.3a1.8,1.8 0 1 0 3.6,0a1.8,1.8 0 1 0 -3.6,0M1003.5,469.3a1.8,1.8 0 1 0 3.6,0a1.8,1.8 0 1 0 -3.6,0M798.5,476.5a1.8,1.8 0 1 0 3.6,0a1.8,1.8 0 1 0 -3.6,0M805.7,476.5a1.8,1.8 0 1 0 3.6,0a1.8,1.8 0 1 0 -3.6,0M812.9,476.5a1.8,1.8 0 1 0 3.6,0a1.8,1.8 0 1 0 -3.6,0M820.1,476.5a1.8,1.8 0 1 0 3.6,0a1.8,1.8 0 1 0 -3.6,0M827.2,476.5a1.8,1.8 0 1 0 3.6,0a1.8,1.8 0 1 0 -3.6,0M834.4,476.5a1.8,1.8 0 1 0 3.6,0a1.8,1.8 0 1 0 -3.6,0M841.6,476.5a1.8,1.8 0 1 0 3.6,0a1.8,1.8 0 1 0 -3.6,0M848.8,476.5a1.8,1.8 0 1 0 3.6,0a1.8,1.8 0 1 0 -3.6,0M856.0,476.5a1.8,1.8 0 1 0 3.6,0a1.8,1.8 0 1 0 -3.6,0M863.2,476.5a1.8,1.8 0 1 0 3.6,0a1.8,1.8 0 1 0 -3.6,0M870.4,476.5a1.8,1.8 0 1 0 3.6,0a1.8,1.8 0 1 0 -3.6,0M877.5,476.5a1.8,1.8 0 1 0 3.6,0a1.8,1.8 0 1 0 -3.6,0M884.7,476.5a1.8,1.8 0 1 0 3.6,0a1.8,1.8 0 1 0 -3.6,0M891.9,476.5a1.8,1.8 0 1 0 3.6,0a1.8,1.8 0 1 0 -3.6,0M899.1,476.5a1.8,1.8 0 1 0 3.6,0a1.8,1.8 0 1 0 -3.6,0M906.3,476.5a1.8,1.8 0 1 0 3.6,0a1.8,1.8 0 1 0 -3.6,0M913.5,476.5a1.8,1.8 0 1 0 3.6,0a1.8,1.8 0 1 0 -3.6,0M920.7,476.5a1.8,1.8 0 1 0 3.6,0a1.8,1.8 0 1 0 -3.6,0M927.8,476.5a1.8,1.8 0 1 0 3.6,0a1.8,1.8 0 1 0 -3.6,0M935.0,476.5a1.8,1.8 0 1 0 3.6,0a1.8,1.8 0 1 0 -3.6,0M942.2,476.5a1.8,1.8 0 1 0 3.6,0a1.8,1.8 0 1 0 -3.6,0M949.4,476.5a1.8,1.8 0 1 0 3.6,0a1.8,1.8 0 1 0 -3.6,0M956.6,476.5a1.8,1.8 0 1 0 3.6,0a1.8,1.8 0 1 0 -3.6,0M963.8,476.5a1.8,1.8 0 1 0 3.6,0a1.8,1.8 0 1 0 -3.6,0M971.0,476.5a1.8,1.8 0 1 0 3.6,0a1.8,1.8 0 1 0 -3.6,0M978.1,476.5a1.8,1.8 0 1 0 3.6,0a1.8,1.8 0 1 0 -3.6,0M985.3,476.5a1.8,1.8 0 1 0 3.6,0a1.8,1.8 0 1 0 -3.6,0M992.5,476.5a1.8,1.8 0 1 0 3.6,0a1.8,1.8 0 1 0 -3.6,0M999.7,476.5a1.8,1.8 0 1 0 3.6,0a1.8,1.8 0 1 0 -3.6,0M1006.9,476.5a1.8,1.8 0 1 0 3.6,0a1.8,1.8 0 1 0 -3.6,0M798.5,564.9a1.8,1.8 0 1 0 3.6,0a1.8,1.8 0 1 0 -3.6,0M805.7,564.9a1.8,1.8 0 1 0 3.6,0a1.8,1.8 0 1 0 -3.6,0M812.9,564.9a1.8,1.8 0 1 0 3.6,0a1.8,1.8 0 1 0 -3.6,0M820.1,564.9a1.8,1.8 0 1 0 3.6,0a1.8,1.8 0 1 0 -3.6,0M827.2,564.9a1.8,1.8 0 1 0 3.6,0a1.8,1.8 0 1 0 -3.6,0M834.4,564.9a1.8,1.8 0 1 0 3.6,0a1.8,1.8 0 1 0 -3.6,0M841.6,564.9a1.8,1.8 0 1 0 3.6,0a1.8,1.8 0 1 0 -3.6,0M848.8,564.9a1.8,1.8 0 1 0 3.6,0a1.8,1.8 0 1 0 -3.6,0M856.0,564.9a1.8,1.8 0 1 0 3.6,0a1.8,1.8 0 1 0 -3.6,0M863.2,564.9a1.8,1.8 0 1 0 3.6,0a1.8,1.8 0 1 0 -3.6,0M870.4,564.9a1.8,1.8 0 1 0 3.6,0a1.8,1.8 0 1 0 -3.6,0M877.5,564.9a1.8,1.8 0 1 0 3.6,0a1.8,1.8 0 1 0 -3.6,0M884.7,564.9a1.8,1.8 0 1 0 3.6,0a1.8,1.8 0 1 0 -3.6,0M891.9,564.9a1.8,1.8 0 1 0 3.6,0a1.8,1.8 0 1 0 -3.6,0M899.1,564.9a1.8,1.8 0 1 0 3.6,0a1.8,1.8 0 1 0 -3.6,0M906.3,564.9a1.8,1.8 0 1 0 3.6,0a1.8,1.8 0 1 0 -3.6,0M913.5,564.9a1.8,1.8 0 1 0 3.6,0a1.8,1.8 0 1 0 -3.6,0M920.7,564.9a1.8,1.8 0 1 0 3.6,0a1.8,1.8 0 1 0 -3.6,0M927.8,564.9a1.8,1.8 0 1 0 3.6,0a1.8,1.8 0 1 0 -3.6,0M935.0,564.9a1.8,1.8 0 1 0 3.6,0a1.8,1.8 0 1 0 -3.6,0M942.2,564.9a1.8,1.8 0 1 0 3.6,0a1.8,1.8 0 1 0 -3.6,0M949.4,564.9a1.8,1.8 0 1 0 3.6,0a1.8,1.8 0 1 0 -3.6,0M956.6,564.9a1.8,1.8 0 1 0 3.6,0a1.8,1.8 0 1 0 -3.6,0M963.8,564.9a1.8,1.8 0 1 0 3.6,0a1.8,1.8 0 1 0 -3.6,0M971.0,564.9a1.8,1.8 0 1 0 3.6,0a1.8,1.8 0 1 0 -3.6,0M978.1,564.9a1.8,1.8 0 1 0 3.6,0a1.8,1.8 0 1 0 -3.6,0M985.3,564.9a1.8,1.8 0 1 0 3.6,0a1.8,1.8 0 1 0 -3.6,0M992.5,564.9a1.8,1.8 0 1 0 3.6,0a1.8,1.8 0 1 0 -3.6,0M999.7,564.9a1.8,1.8 0 1 0 3.6,0a1.8,1.8 0 1 0 -3.6,0M1006.9,564.9a1.8,1.8 0 1 0 3.6,0a1.8,1.8 0 1 0 -3.6,0M802.3,572.1a1.8,1.8 0 1 0 3.6,0a1.8,1.8 0 1 0 -3.6,0M809.5,572.1a1.8,1.8 0 1 0 3.6,0a1.8,1.8 0 1 0 -3.6,0M816.7,572.1a1.8,1.8 0 1 0 3.6,0a1.8,1.8 0 1 0 -3.6,0M823.9,572.1a1.8,1.8 0 1 0 3.6,0a1.8,1.8 0 1 0 -3.6,0M831.0,572.1a1.8,1.8 0 1 0 3.6,0a1.8,1.8 0 1 0 -3.6,0M838.2,572.1a1.8,1.8 0 1 0 3.6,0a1.8,1.8 0 1 0 -3.6,0M845.4,572.1a1.8,1.8 0 1 0 3.6,0a1.8,1.8 0 1 0 -3.6,0M852.6,572.1a1.8,1.8 0 1 0 3.6,0a1.8,1.8 0 1 0 -3.6,0M859.8,572.1a1.8,1.8 0 1 0 3.6,0a1.8,1.8 0 1 0 -3.6,0M867.0,572.1a1.8,1.8 0 1 0 3.6,0a1.8,1.8 0 1 0 -3.6,0M874.2,572.1a1.8,1.8 0 1 0 3.6,0a1.8,1.8 0 1 0 -3.6,0M881.3,572.1a1.8,1.8 0 1 0 3.6,0a1.8,1.8 0 1 0 -3.6,0M888.5,572.1a1.8,1.8 0 1 0 3.6,0a1.8,1.8 0 1 0 -3.6,0M895.7,572.1a1.8,1.8 0 1 0 3.6,0a1.8,1.8 0 1 0 -3.6,0M902.9,572.1a1.8,1.8 0 1 0 3.6,0a1.8,1.8 0 1 0 -3.6,0M910.1,572.1a1.8,1.8 0 1 0 3.6,0a1.8,1.8 0 1 0 -3.6,0M917.3,572.1a1.8,1.8 0 1 0 3.6,0a1.8,1.8 0 1 0 -3.6,0M924.5,572.1a1.8,1.8 0 1 0 3.6,0a1.8,1.8 0 1 0 -3.6,0M931.6,572.1a1.8,1.8 0 1 0 3.6,0a1.8,1.8 0 1 0 -3.6,0M938.8,572.1a1.8,1.8 0 1 0 3.6,0a1.8,1.8 0 1 0 -3.6,0M946.0,572.1a1.8,1.8 0 1 0 3.6,0a1.8,1.8 0 1 0 -3.6,0M953.2,572.1a1.8,1.8 0 1 0 3.6,0a1.8,1.8 0 1 0 -3.6,0M960.4,572.1a1.8,1.8 0 1 0 3.6,0a1.8,1.8 0 1 0 -3.6,0M967.6,572.1a1.8,1.8 0 1 0 3.6,0a1.8,1.8 0 1 0 -3.6,0M974.8,572.1a1.8,1.8 0 1 0 3.6,0a1.8,1.8 0 1 0 -3.6,0M982.0,572.1a1.8,1.8 0 1 0 3.6,0a1.8,1.8 0 1 0 -3.6,0M989.1,572.1a1.8,1.8 0 1 0 3.6,0a1.8,1.8 0 1 0 -3.6,0M996.3,572.1a1.8,1.8 0 1 0 3.6,0a1.8,1.8 0 1 0 -3.6,0M1003.5,572.1a1.8,1.8 0 1 0 3.6,0a1.8,1.8 0 1 0 -3.6,0M798.5,579.3a1.8,1.8 0 1 0 3.6,0a1.8,1.8 0 1 0 -3.6,0M805.7,579.3a1.8,1.8 0 1 0 3.6,0a1.8,1.8 0 1 0 -3.6,0M812.9,579.3a1.8,1.8 0 1 0 3.6,0a1.8,1.8 0 1 0 -3.6,0M820.1,579.3a1.8,1.8 0 1 0 3.6,0a1.8,1.8 0 1 0 -3.6,0M827.2,579.3a1.8,1.8 0 1 0 3.6,0a1.8,1.8 0 1 0 -3.6,0M834.4,579.3a1.8,1.8 0 1 0 3.6,0a1.8,1.8 0 1 0 -3.6,0M841.6,579.3a1.8,1.8 0 1 0 3.6,0a1.8,1.8 0 1 0 -3.6,0M848.8,579.3a1.8,1.8 0 1 0 3.6,0a1.8,1.8 0 1 0 -3.6,0M856.0,579.3a1.8,1.8 0 1 0 3.6,0a1.8,1.8 0 1 0 -3.6,0M863.2,579.3a1.8,1.8 0 1 0 3.6,0a1.8,1.8 0 1 0 -3.6,0M870.4,579.3a1.8,1.8 0 1 0 3.6,0a1.8,1.8 0 1 0 -3.6,0M877.5,579.3a1.8,1.8 0 1 0 3.6,0a1.8,1.8 0 1 0 -3.6,0M884.7,579.3a1.8,1.8 0 1 0 3.6,0a1.8,1.8 0 1 0 -3.6,0M891.9,579.3a1.8,1.8 0 1 0 3.6,0a1.8,1.8 0 1 0 -3.6,0M899.1,579.3a1.8,1.8 0 1 0 3.6,0a1.8,1.8 0 1 0 -3.6,0M906.3,579.3a1.8,1.8 0 1 0 3.6,0a1.8,1.8 0 1 0 -3.6,0M913.5,579.3a1.8,1.8 0 1 0 3.6,0a1.8,1.8 0 1 0 -3.6,0M920.7,579.3a1.8,1.8 0 1 0 3.6,0a1.8,1.8 0 1 0 -3.6,0M927.8,579.3a1.8,1.8 0 1 0 3.6,0a1.8,1.8 0 1 0 -3.6,0M935.0,579.3a1.8,1.8 0 1 0 3.6,0a1.8,1.8 0 1 0 -3.6,0M942.2,579.3a1.8,1.8 0 1 0 3.6,0a1.8,1.8 0 1 0 -3.6,0M949.4,579.3a1.8,1.8 0 1 0 3.6,0a1.8,1.8 0 1 0 -3.6,0M956.6,579.3a1.8,1.8 0 1 0 3.6,0a1.8,1.8 0 1 0 -3.6,0M963.8,579.3a1.8,1.8 0 1 0 3.6,0a1.8,1.8 0 1 0 -3.6,0M971.0,579.3a1.8,1.8 0 1 0 3.6,0a1.8,1.8 0 1 0 -3.6,0M978.1,579.3a1.8,1.8 0 1 0 3.6,0a1.8,1.8 0 1 0 -3.6,0M985.3,579.3a1.8,1.8 0 1 0 3.6,0a1.8,1.8 0 1 0 -3.6,0M992.5,579.3a1.8,1.8 0 1 0 3.6,0a1.8,1.8 0 1 0 -3.6,0M999.7,579.3a1.8,1.8 0 1 0 3.6,0a1.8,1.8 0 1 0 -3.6,0M1006.9,579.3a1.8,1.8 0 1 0 3.6,0a1.8,1.8 0 1 0 -3.6,0M802.3,586.5a1.8,1.8 0 1 0 3.6,0a1.8,1.8 0 1 0 -3.6,0M809.5,586.5a1.8,1.8 0 1 0 3.6,0a1.8,1.8 0 1 0 -3.6,0M816.7,586.5a1.8,1.8 0 1 0 3.6,0a1.8,1.8 0 1 0 -3.6,0M823.9,586.5a1.8,1.8 0 1 0 3.6,0a1.8,1.8 0 1 0 -3.6,0M831.0,586.5a1.8,1.8 0 1 0 3.6,0a1.8,1.8 0 1 0 -3.6,0M838.2,586.5a1.8,1.8 0 1 0 3.6,0a1.8,1.8 0 1 0 -3.6,0M845.4,586.5a1.8,1.8 0 1 0 3.6,0a1.8,1.8 0 1 0 -3.6,0M852.6,586.5a1.8,1.8 0 1 0 3.6,0a1.8,1.8 0 1 0 -3.6,0M859.8,586.5a1.8,1.8 0 1 0 3.6,0a1.8,1.8 0 1 0 -3.6,0M867.0,586.5a1.8,1.8 0 1 0 3.6,0a1.8,1.8 0 1 0 -3.6,0M874.2,586.5a1.8,1.8 0 1 0 3.6,0a1.8,1.8 0 1 0 -3.6,0M881.3,586.5a1.8,1.8 0 1 0 3.6,0a1.8,1.8 0 1 0 -3.6,0M888.5,586.5a1.8,1.8 0 1 0 3.6,0a1.8,1.8 0 1 0 -3.6,0M895.7,586.5a1.8,1.8 0 1 0 3.6,0a1.8,1.8 0 1 0 -3.6,0M902.9,586.5a1.8,1.8 0 1 0 3.6,0a1.8,1.8 0 1 0 -3.6,0M910.1,586.5a1.8,1.8 0 1 0 3.6,0a1.8,1.8 0 1 0 -3.6,0M917.3,586.5a1.8,1.8 0 1 0 3.6,0a1.8,1.8 0 1 0 -3.6,0M924.5,586.5a1.8,1.8 0 1 0 3.6,0a1.8,1.8 0 1 0 -3.6,0M931.6,586.5a1.8,1.8 0 1 0 3.6,0a1.8,1.8 0 1 0 -3.6,0M938.8,586.5a1.8,1.8 0 1 0 3.6,0a1.8,1.8 0 1 0 -3.6,0M946.0,586.5a1.8,1.8 0 1 0 3.6,0a1.8,1.8 0 1 0 -3.6,0M953.2,586.5a1.8,1.8 0 1 0 3.6,0a1.8,1.8 0 1 0 -3.6,0M960.4,586.5a1.8,1.8 0 1 0 3.6,0a1.8,1.8 0 1 0 -3.6,0M967.6,586.5a1.8,1.8 0 1 0 3.6,0a1.8,1.8 0 1 0 -3.6,0M974.8,586.5a1.8,1.8 0 1 0 3.6,0a1.8,1.8 0 1 0 -3.6,0M982.0,586.5a1.8,1.8 0 1 0 3.6,0a1.8,1.8 0 1 0 -3.6,0M989.1,586.5a1.8,1.8 0 1 0 3.6,0a1.8,1.8 0 1 0 -3.6,0M996.3,586.5a1.8,1.8 0 1 0 3.6,0a1.8,1.8 0 1 0 -3.6,0M1003.5,586.5a1.8,1.8 0 1 0 3.6,0a1.8,1.8 0 1 0 -3.6,0M798.5,593.7a1.8,1.8 0 1 0 3.6,0a1.8,1.8 0 1 0 -3.6,0M805.7,593.7a1.8,1.8 0 1 0 3.6,0a1.8,1.8 0 1 0 -3.6,0M812.9,593.7a1.8,1.8 0 1 0 3.6,0a1.8,1.8 0 1 0 -3.6,0M820.1,593.7a1.8,1.8 0 1 0 3.6,0a1.8,1.8 0 1 0 -3.6,0M827.2,593.7a1.8,1.8 0 1 0 3.6,0a1.8,1.8 0 1 0 -3.6,0M834.4,593.7a1.8,1.8 0 1 0 3.6,0a1.8,1.8 0 1 0 -3.6,0M841.6,593.7a1.8,1.8 0 1 0 3.6,0a1.8,1.8 0 1 0 -3.6,0M848.8,593.7a1.8,1.8 0 1 0 3.6,0a1.8,1.8 0 1 0 -3.6,0M856.0,593.7a1.8,1.8 0 1 0 3.6,0a1.8,1.8 0 1 0 -3.6,0M863.2,593.7a1.8,1.8 0 1 0 3.6,0a1.8,1.8 0 1 0 -3.6,0M870.4,593.7a1.8,1.8 0 1 0 3.6,0a1.8,1.8 0 1 0 -3.6,0M877.5,593.7a1.8,1.8 0 1 0 3.6,0a1.8,1.8 0 1 0 -3.6,0M884.7,593.7a1.8,1.8 0 1 0 3.6,0a1.8,1.8 0 1 0 -3.6,0M891.9,593.7a1.8,1.8 0 1 0 3.6,0a1.8,1.8 0 1 0 -3.6,0M899.1,593.7a1.8,1.8 0 1 0 3.6,0a1.8,1.8 0 1 0 -3.6,0M906.3,593.7a1.8,1.8 0 1 0 3.6,0a1.8,1.8 0 1 0 -3.6,0M913.5,593.7a1.8,1.8 0 1 0 3.6,0a1.8,1.8 0 1 0 -3.6,0M920.7,593.7a1.8,1.8 0 1 0 3.6,0a1.8,1.8 0 1 0 -3.6,0M927.8,593.7a1.8,1.8 0 1 0 3.6,0a1.8,1.8 0 1 0 -3.6,0M935.0,593.7a1.8,1.8 0 1 0 3.6,0a1.8,1.8 0 1 0 -3.6,0M942.2,593.7a1.8,1.8 0 1 0 3.6,0a1.8,1.8 0 1 0 -3.6,0M949.4,593.7a1.8,1.8 0 1 0 3.6,0a1.8,1.8 0 1 0 -3.6,0M956.6,593.7a1.8,1.8 0 1 0 3.6,0a1.8,1.8 0 1 0 -3.6,0M963.8,593.7a1.8,1.8 0 1 0 3.6,0a1.8,1.8 0 1 0 -3.6,0M971.0,593.7a1.8,1.8 0 1 0 3.6,0a1.8,1.8 0 1 0 -3.6,0M978.1,593.7a1.8,1.8 0 1 0 3.6,0a1.8,1.8 0 1 0 -3.6,0M985.3,593.7a1.8,1.8 0 1 0 3.6,0a1.8,1.8 0 1 0 -3.6,0M992.5,593.7a1.8,1.8 0 1 0 3.6,0a1.8,1.8 0 1 0 -3.6,0M999.7,593.7a1.8,1.8 0 1 0 3.6,0a1.8,1.8 0 1 0 -3.6,0M1006.9,593.7a1.8,1.8 0 1 0 3.6,0a1.8,1.8 0 1 0 -3.6,0" fill="none" stroke="#f4f4f6" stroke-width="1.7" /><circle cx="801.7" cy="607" r="6.2" fill="none" stroke="#f4f4f6" stroke-width="2.7" /><circle cx="1008" cy="607" r="6.2" fill="none" stroke="#f4f4f6" stroke-width="2.7" /><path d="M859.7,347.3 H1004.5" fill="none" stroke="#f4f4f6" stroke-width="3.0" /><path d="M844,353.6 H996.7 V392.4 H844 Z" fill="none" stroke="#f4f4f6" stroke-width="2.0" /><path d="M844,354.2 H996.7" fill="none" stroke="#f4f4f6" stroke-width="2.6" /><path d="M845.5,354 V359.4 H876.2 V347.5 M952.7,354 V359.4 H983.5 V347.5" fill="none" stroke="#f4f4f6" stroke-width="1.7" /><path d="M856,354 V359.4 M862.3,347.3 V359.4 M963.2,354 V359.4 M969.3,347.3 V359.4" fill="none" stroke="#f4f4f6" stroke-width="3.0" /><circle cx="861.7" cy="362" r="3.0" fill="none" stroke="#f4f4f6" stroke-width="1.6" /><circle cx="861.7" cy="384.2" r="3.0" fill="none" stroke="#f4f4f6" stroke-width="1.6" /><circle cx="978.2" cy="362" r="3.0" fill="none" stroke="#f4f4f6" stroke-width="1.6" /><circle cx="978.2" cy="384.2" r="3.0" fill="none" stroke="#f4f4f6" stroke-width="1.6" /><path d="M918.7,638 H940 V650.5 Q940,653.3 937,653.3 H921.7 Q918.7,653.3 918.7,650.5 Z" fill="#f2f2f4"/><path d="M920.5,640.6 H938.2" fill="none" stroke="#8d8f99" stroke-width="1.3" /><path d="M953.3,637 V642 Q953.3,644 955.3,644 H964.7 Q966.7,644 966.7,642 V637" fill="none" stroke="#f4f4f6" stroke-width="1.5" /><path d="M955.5,640.2 H964.5" fill="none" stroke="#f4f4f6" stroke-width="1.2" opacity="0.7"/><path d="M985.3,638.2 H1000.7 M989.4,638 V648.6 H996.7 V638" fill="none" stroke="#f4f4f6" stroke-width="1.6" /><path d="M990,648.6 C990,662 993.8,690 993.6,700 C993.2,716 984.5,732 969,764 L956.1,791.5" fill="none" stroke="#f4f4f6" stroke-width="1.4" /><path d="M996,648.6 C996.4,662 1000.8,690 1000.6,700 C1000.2,716 990.5,734 974.9,764 L961,793" fill="none" stroke="#f4f4f6" stroke-width="1.4" /><path d="M943,793.2 L953.1,792.3 L955,802 L956.5,822.3 L958.8,828.3 L949.5,828 Q946,826 945.3,822.3 L941.9,805 Q941.4,795 943,793.2 Z" fill="none" stroke="#f4f4f6" stroke-width="1.1" /><path d="M953.1,792.3 L961,793 Q966.5,794 968.4,796 Q970.8,799 971,803 Q971.4,810 968.5,817 L964.8,825.3 Q963,828.6 958.8,828.3" fill="none" stroke="#f4f4f6" stroke-width="1.1" /><path d="M955,793 L956.9,802 L958.2,821.5 L961.3,827.6" fill="none" stroke="#f4f4f6" stroke-width="1.0" opacity="0.85"/><path d="M941.9,803.2 L954.9,802.3 M945.6,822.4 L956.5,822" fill="none" stroke="#f4f4f6" stroke-width="1.0" /><path d="M941.8,802 L932.5,803.2 Q929.8,805.3 932.8,807.2 L942.3,806.6" fill="none" stroke="#f4f4f6" stroke-width="1.1" /><path d="M944.2,815 L935.8,816.6 Q933,818.7 936,820.8 L945.2,820.4" fill="none" stroke="#f4f4f6" stroke-width="1.1" /><path d="M937.8,807 Q938.8,810 941.6,810.2" fill="none" stroke="#f4f4f6" stroke-width="0.9" opacity="0.8"/><path d="M957.2,381.5 V404.6 H1103.4" fill="none" stroke="#f4f4f6" stroke-width="1.4" /><path d="M928,740 H984.2" fill="none" stroke="#f4f4f6" stroke-width="1.4" /></g><g font-family="'Liberation Sans', sans-serif" fill="#fff" stroke="none" font-size="16"><text x="1087.6" y="400.4">8</text><text x="930.3" y="736.2">9</text></g><g stroke-linejoin="round" stroke-linecap="butt"><path d="M155,776 V716 A25.3,25.3 0 0 1 180.3,690.7 H388.5 A26.2,26.2 0 0 1 414.7,716.9 V776" fill="none" stroke="#f4f4f6" stroke-width="2.25" /><path d="M176.3,776 V718 Q176.3,713.3 181,713.3 H388 Q392.7,713.3 392.7,718 V776" fill="none" stroke="#f4f4f6" stroke-width="2.25" /><path d="M181.4,690.7 V713.3 M155,718 H176.3 M387.7,690.7 V713.3 M392.7,718 H414.7" fill="none" stroke="#f4f4f6" stroke-width="1.9" /><path d="M145.7,800.8 V776.3 H423.4 V801.3" fill="none" stroke="#f4f4f6" stroke-width="2.25" /><path d="M146,779.9 H423" fill="none" stroke="#f4f4f6" stroke-width="1.7" /><path d="M165.7,776.3 V806 M403.3,776.3 V806" fill="none" stroke="#f4f4f6" stroke-width="1.9" /><path d="M144.7,799.4 H184 V804.8 H149.5 L144.7,801 Z" fill="#f0f0f2"/><path d="M155,808.7 H184" fill="none" stroke="#f4f4f6" stroke-width="1.9" /><path d="M275.7,801.2 H372" fill="none" stroke="#f4f4f6" stroke-width="2.25" /><path d="M370.3,800.1 H424.5 L418.8,805.9 H379.7 L370.3,800.9 Z" fill="#f0f0f2"/><path d="M379.7,806.6 H418.3" fill="none" stroke="#f4f4f6" stroke-width="2.0" /><path d="M276.4,806 H281 Q284.5,802.6 288,806 H290.3" fill="none" stroke="#f4f4f6" stroke-width="1.7" /><path d="M391.5,804.9 Q396.3,802.6 401,804.9 Z" fill="#212433"/><path d="M155,808.7 V858.7 L161.7,864.3 H408.3 L415.7,860 V806.7" fill="none" stroke="#f4f4f6" stroke-width="2.25" /><path d="M161,808.7 V864 M409,806.7 V864" fill="none" stroke="#f4f4f6" stroke-width="1.9" /><path d="M155,844.7 H301.5 M369,844.7 H415.7" fill="none" stroke="#f4f4f6" stroke-width="2.0" /><path d="M188.3,866.9 H329.7" fill="none" stroke="#f4f4f6" stroke-width="1.7" /><path d="M219,866.5 H329.7" fill="none" stroke="#f4f4f6" stroke-width="2.1" /><path d="M174.3,864.3 V872 H187.7 V864.3 M381,864.3 V872 H394.3 V864.3" fill="none" stroke="#f4f4f6" stroke-width="2.0" /><path d="M155,816.8 H147.4 V824.2 H155" fill="none" stroke="#f4f4f6" stroke-width="1.9" /><path d="M151,817.5 V823.5" fill="none" stroke="#f4f4f6" stroke-width="2.4" /><path d="M184,781.3 H275.7 V808.7 H184 Z" fill="none" stroke="#f4f4f6" stroke-width="2.25" /><path d="M187,781.3 V799 H206.3 V781.3" fill="none" stroke="#f4f4f6" stroke-width="1.7" /><path d="M189.8,782.8 H203.7 V796.7 H189.8 Z" fill="none" stroke="#f4f4f6" stroke-width="1.7" /><circle cx="196.3" cy="790" r="3.6" fill="none" stroke="#f4f4f6" stroke-width="1.9" /><circle cx="196.4" cy="804.3" r="3.9" fill="#c9cad0" stroke="#f4f4f6" stroke-width="1.5"/><circle cx="229.4" cy="798.7" r="6.1" fill="none" stroke="#f4f4f6" stroke-width="3.5" /><circle cx="229.4" cy="798.7" r="2.9" fill="none" stroke="#f4f4f6" stroke-width="1.3" /><circle cx="261.3" cy="795.7" r="10.8" fill="none" stroke="#f4f4f6" stroke-width="1.9" /><circle cx="261.3" cy="795.7" r="6.3" fill="none" stroke="#f4f4f6" stroke-width="2.6" /><circle cx="261.3" cy="795.7" r="2.6" fill="#e4e4e8"/><g fill="#f4f4f6" opacity="0.95"><rect x="224.2" y="785.1" width="3.3" height="4.8"/><rect x="228.3" y="785.1" width="3.2" height="4.8"/><rect x="232.2" y="785.6" width="3.2" height="4.3"/><rect x="241" y="783.1" width="3.3" height="4.8"/><rect x="245.1" y="783.1" width="3.2" height="4.8"/><rect x="249" y="783.6" width="3.2" height="4.3"/></g><g fill="#212433"><rect x="225.4" y="786.6" width="0.9" height="0.9"/><rect x="229.4" y="786.7" width="0.9" height="1"/><rect x="233.3" y="787" width="0.9" height="1.3"/><rect x="242.2" y="784.6" width="0.9" height="0.9"/><rect x="246.2" y="784.7" width="0.9" height="1"/><rect x="250.1" y="785" width="0.9" height="1.3"/></g><rect x="273" y="799.6" width="3.4" height="31.8" rx="1.2" ry="1.2" fill="none" stroke="#f4f4f6" stroke-width="1.7" /><rect x="230.20000000000002" y="750.2" width="19.4" height="6.7" rx="1.6" ry="1.6" fill="none" stroke="#f4f4f6" stroke-width="2.7" /><path d="M235.8,756.9 H243.8" fill="none" stroke="#212433" stroke-width="3.0" /><path d="M234.70000000000002,755.6 V763.5 M244.9,755.6 V763.5" fill="none" stroke="#f4f4f6" stroke-width="2.0" /><path d="M232.20000000000002,776 V764.8 Q232.20000000000002,763.5 233.5,763.5 H246.60000000000002 Q247.9,763.5 247.9,764.8 V776" fill="none" stroke="#f4f4f6" stroke-width="2.25" /><path d="M236.60000000000002,764 V776 M243.70000000000002,764 V776" fill="none" stroke="#f4f4f6" stroke-width="1.5" /><path d="M233.8,774.6 H246.3" fill="none" stroke="#f4f4f6" stroke-width="1.2" opacity="0.7"/><rect x="320.2" y="750.2" width="19.4" height="6.7" rx="1.6" ry="1.6" fill="none" stroke="#f4f4f6" stroke-width="2.7" /><path d="M325.8,756.9 H333.8" fill="none" stroke="#212433" stroke-width="3.0" /><path d="M324.7,755.6 V763.5 M334.90000000000003,755.6 V763.5" fill="none" stroke="#f4f4f6" stroke-width="2.0" /><path d="M322.2,776 V764.8 Q322.2,763.5 323.5,763.5 H336.6 Q337.90000000000003,763.5 337.90000000000003,764.8 V776" fill="none" stroke="#f4f4f6" stroke-width="2.25" /><path d="M326.6,764 V776 M333.7,764 V776" fill="none" stroke="#f4f4f6" stroke-width="1.5" /><path d="M323.8,774.6 H336.3" fill="none" stroke="#f4f4f6" stroke-width="1.2" opacity="0.7"/><path d="M290.3,806 V822.5 A25.5,25.5 0 0 0 315.8,848 H354.2 A25.5,25.5 0 0 0 379.7,822.5 V806.6" fill="none" stroke="#f4f4f6" stroke-width="2.25" /><path d="M299.7,801.3 V820.6 A18.7,18.7 0 0 0 318.4,839.3 H351.6 A18.7,18.7 0 0 0 370.3,820.6 V801.3" fill="none" stroke="#f4f4f6" stroke-width="2.25" /><path d="M290.3,806 L297.5,802 M379.7,806.6 L372.5,802" fill="none" stroke="#f4f4f6" stroke-width="1.7" /><path d="M290.3,821.3 H299.7 M370.3,821.3 H379.7 M317,839.3 V848 M352.3,839.3 V848" fill="none" stroke="#f4f4f6" stroke-width="1.9" /><path d="M262.2,796 V889.7 H462" fill="none" stroke="#f4f4f6" stroke-width="1.9" /><path d="M229.4,803.5 V908.6 H462" fill="none" stroke="#f4f4f6" stroke-width="1.9" /><path d="M196.5,790.5 V927.3 H462" fill="none" stroke="#f4f4f6" stroke-width="1.9" /></g><g font-family="'Liberation Sans', sans-serif" fill="#fff" stroke="none" font-size="17"><text x="434.6" y="885.8">10</text><text x="434.6" y="905">11</text><text x="434.6" y="923.9">12</text></g></svg></body></html>
